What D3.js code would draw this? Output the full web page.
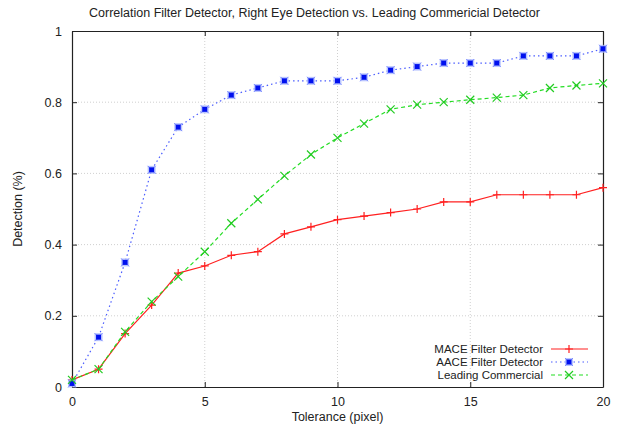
<!DOCTYPE html>
<html>
<head>
<meta charset="utf-8">
<script src="https://cdn.jsdelivr.net/npm/d3@7"></script>
<style>
  body { margin: 0; background: #fff; }
  text { font-family: "Liberation Sans", Arial, sans-serif; fill: #222; }
</style>
</head>
<body>
<div id="chart"></div>
<script>
// data (tolerance 0..20 px)
const tolerance = d3.range(0, 21);
const maceValues = [0.02, 0.05, 0.15, 0.23, 0.32, 0.34, 0.37, 0.38, 0.43, 0.45, 0.47,
                    0.48, 0.49, 0.50, 0.52, 0.52, 0.54, 0.54, 0.54, 0.54, 0.56];
const aaceValues = [0.01, 0.14, 0.35, 0.61, 0.73, 0.78, 0.82, 0.84, 0.86, 0.86, 0.86,
                    0.87, 0.89, 0.90, 0.91, 0.91, 0.91, 0.93, 0.93, 0.93, 0.95];
const commercialValues = [0.02, 0.05, 0.155, 0.24, 0.31, 0.38, 0.46, 0.527, 0.593, 0.653, 0.70,
                          0.74, 0.78, 0.793, 0.80, 0.807, 0.813, 0.82, 0.84, 0.847, 0.853];
const seriesNames = ['MACE Filter Detector', 'AACE Filter Detector', 'Leading Commercial'];
const xTicks = [0, 5, 10, 15, 20];
const yTicks = [0, 0.2, 0.4, 0.6, 0.8, 1];

const W = 623, H = 426;
const margin = { left: 72, right: 20, top: 31, bottom: 39 };

const svg = d3.select('#chart').append('svg')
  .attr('width', W).attr('height', H);

const x = d3.scaleLinear().domain([0, 20]).range([margin.left, W - margin.right]);
const y = d3.scaleLinear().domain([0, 1]).range([H - margin.bottom, margin.top]);

// grid
const grid = svg.append('g');
xTicks.slice(1, -1).forEach(t => {
  grid.append('line')
    .attr('x1', x(t)).attr('x2', x(t)).attr('y1', y(0)).attr('y2', y(1))
    .attr('stroke', '#bbb').attr('stroke-width', 0.7).attr('stroke-dasharray', '1,2');
});
yTicks.slice(1, -1).forEach(t => {
  grid.append('line')
    .attr('x1', x(0)).attr('x2', x(20)).attr('y1', y(t)).attr('y2', y(t))
    .attr('stroke', '#bbb').attr('stroke-width', 0.7).attr('stroke-dasharray', '1,2');
});

// axes (gnuplot style: ticks inward, mirrored)
const tickLen = 5;
const xAxisB = d3.axisBottom(x).tickValues(xTicks).tickSizeInner(-tickLen).tickSizeOuter(0).tickPadding(10).tickFormat(d3.format('d'));
const xAxisT = d3.axisTop(x).tickValues(xTicks).tickSizeInner(-tickLen).tickSizeOuter(0).tickFormat('');
const yAxisL = d3.axisLeft(y).tickValues(yTicks).tickSizeInner(-tickLen).tickSizeOuter(0).tickPadding(10).tickFormat(d => d3.format('~g')(d));
const yAxisR = d3.axisRight(y).tickValues(yTicks).tickSizeInner(-tickLen).tickSizeOuter(0).tickFormat('');

[
  svg.append('g').attr('transform', `translate(0,${y(0)})`).call(xAxisB),
  svg.append('g').attr('transform', `translate(0,${y(1)})`).call(xAxisT),
  svg.append('g').attr('transform', `translate(${x(0)},0)`).call(yAxisL),
  svg.append('g').attr('transform', `translate(${x(20)},0)`).call(yAxisR)
].forEach(g => {
  g.select('.domain').attr('stroke', '#222').attr('stroke-width', 1.2);
  g.selectAll('.tick line').attr('stroke', '#222');
  g.selectAll('.tick text').attr('font-size', 12.5).attr('fill', '#222')
    .style('font-family', '"Liberation Sans", Arial, sans-serif');
});

// titles
svg.append('text').attr('x', W / 2 + 3).attr('y', 17)
  .attr('text-anchor', 'middle').attr('font-size', 12.5)
  .text('Correlation Filter Detector, Right Eye Detection vs. Leading Commericial Detector');
svg.append('text').attr('x', (x(0) + x(20)) / 2).attr('y', 421)
  .attr('text-anchor', 'middle').attr('font-size', 12.5)
  .text('Tolerance (pixel)');
svg.append('text')
  .attr('transform', `translate(22,${(y(0) + y(1)) / 2}) rotate(-90)`)
  .attr('text-anchor', 'middle').attr('font-size', 12.5)
  .text('Detection (%)');

// markers
function plus(g, cx, cy, col) {
  g.append('path').attr('d', `M${cx - 4},${cy}H${cx + 4}M${cx},${cy - 4}V${cy + 4}`)
    .attr('stroke', col).attr('stroke-width', 1.2).attr('fill', 'none');
}
function starSquare(g, cx, cy, col) {
  g.append('rect').attr('x', cx - 4).attr('y', cy - 4).attr('width', 8).attr('height', 8)
    .attr('fill', '#aab8ff').attr('opacity', 0.8);
  g.append('path').attr('d', `M${cx - 4},${cy - 4}L${cx + 4},${cy + 4}M${cx - 4},${cy + 4}L${cx + 4},${cy - 4}`)
    .attr('stroke', '#7f8fff').attr('stroke-width', 1);
  g.append('rect').attr('x', cx - 2.5).attr('y', cy - 2.5).attr('width', 5).attr('height', 5)
    .attr('fill', col);
}
function cross(g, cx, cy, col) {
  g.append('path').attr('d', `M${cx - 4},${cy - 4}L${cx + 4},${cy + 4}M${cx - 4},${cy + 4}L${cx + 4},${cy - 4}`)
    .attr('stroke', col).attr('stroke-width', 1.2).attr('fill', 'none');
}

const series = [
  { name: seriesNames[0], values: maceValues, color: '#ff2020', dash: null, marker: plus, mcolor: '#ff2020' },
  { name: seriesNames[1], values: aaceValues, color: '#4a5cff', dash: '1.5,3', marker: starSquare, mcolor: '#0010ee' },
  { name: seriesNames[2], values: commercialValues, color: '#22dd22', dash: '4,3', marker: cross, mcolor: '#22cc22' }
];

const line = d3.line().x(d => x(d[0])).y(d => y(d[1]));

series.forEach(s => {
  const pts = tolerance.map((t, i) => [t, s.values[i]]);
  const g = svg.append('g');
  g.append('path').datum(pts).attr('d', line)
    .attr('fill', 'none').attr('stroke', s.color).attr('stroke-width', 1.2)
    .attr('stroke-dasharray', s.dash);
  pts.forEach(p => s.marker(g, x(p[0]), y(p[1]), s.mcolor));
});

// legend
const legend = svg.append('g');
series.forEach((s, i) => {
  const ly = 349 + i * 13;
  legend.append('text').attr('x', 543).attr('y', ly + 4)
    .attr('text-anchor', 'end').attr('font-size', 11.5).text(s.name);
  legend.append('line').attr('x1', 551).attr('x2', 588).attr('y1', ly).attr('y2', ly)
    .attr('stroke', s.color).attr('stroke-width', 1.2).attr('stroke-dasharray', s.dash);
  s.marker(legend, 569, ly, s.mcolor);
});
</script>
</body>
</html>
